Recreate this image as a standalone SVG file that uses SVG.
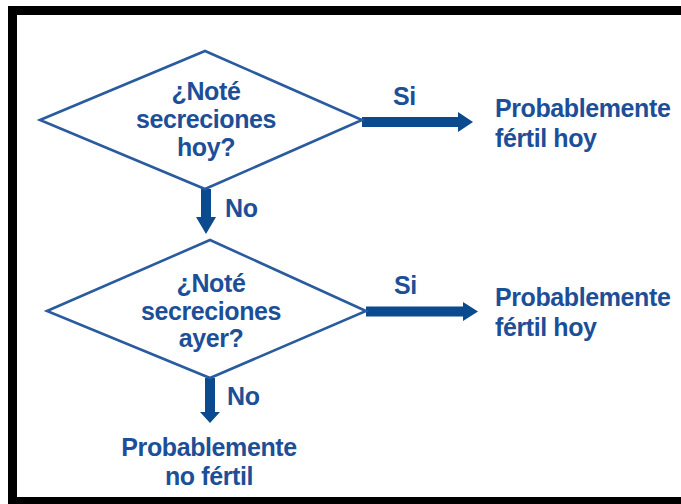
<svg xmlns="http://www.w3.org/2000/svg" width="681" height="504" viewBox="0 0 681 504">
<style>
.t{font-family:"Liberation Sans",Arial,sans-serif;font-weight:bold;font-size:25px;letter-spacing:-0.4px;fill:#1d4f98}
.m{text-anchor:middle}
.d{fill:#fff;stroke:#2a5b9f;stroke-width:2.6;stroke-linejoin:miter}
.a{fill:#0b4a8e}
</style>
<rect x="0" y="0" width="681" height="504" fill="#fff"/>
<rect x="12.5" y="10.5" width="690" height="491" fill="none" stroke="#000" stroke-width="9"/>
<g id="connectors">
<polygon class="a" points="362,117 458,117 458,112 473,122 458,132 458,127 362,127"/>
<polygon class="a" points="201,189 211,189 211,217 216,217 206,234 196,217 201,217"/>
<polygon class="a" points="366,306.5 463,306.5 463,302 478,311.5 463,321 463,316.5 366,316.5"/>
<polygon class="a" points="205,378 215,378 215,412 220,412 210,423 200,412 205,412"/>
<text class="t" x="393" y="105">Si</text>
<text class="t" x="225" y="217">No</text>
<text class="t" x="394" y="294">Si</text>
<text class="t" x="227" y="405">No</text>
</g>
<g id="q1">
<polygon class="d" points="40,120 205,51 362,120 205,189"/>
<text class="t m" x="206" y="100">¿Noté</text>
<text class="t m" x="206" y="128">secreciones</text>
<text class="t m" x="206" y="156">hoy?</text>
</g>
<g id="r1">
<text class="t" x="495" y="117">Probablemente</text>
<text class="t" x="495" y="147">fértil hoy</text>
</g>
<g id="q2">
<polygon class="d" points="47,311 210,240 366,311 210,378"/>
<text class="t m" x="211" y="292">¿Noté</text>
<text class="t m" x="211" y="320">secreciones</text>
<text class="t m" x="211" y="347">ayer?</text>
</g>
<g id="r2">
<text class="t" x="495" y="306">Probablemente</text>
<text class="t" x="495" y="336">fértil hoy</text>
</g>
<g id="r3">
<text class="t m" x="209" y="456">Probablemente</text>
<text class="t m" x="209" y="485">no fértil</text>
</g>
</svg>
